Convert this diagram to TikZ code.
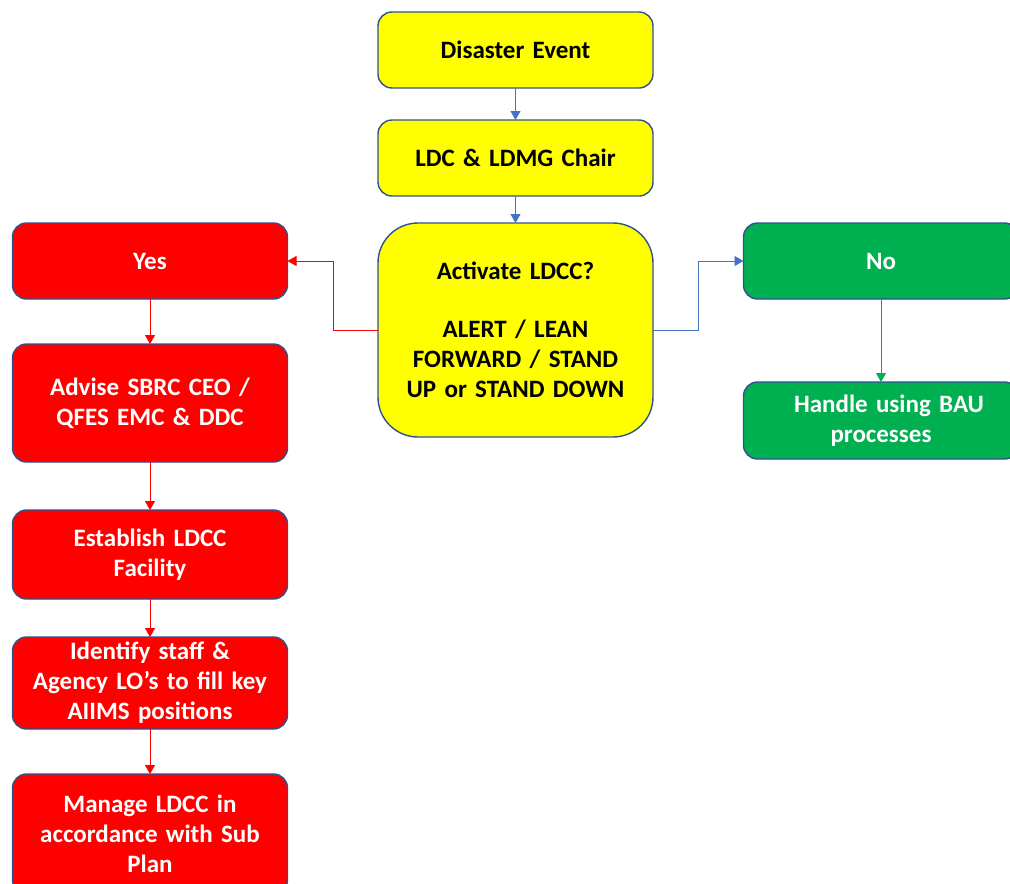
\documentclass[tikz,border=0pt]{standalone}
\usepackage{fontspec}
\setmainfont{Carlito}
\usepackage{xcolor}
\usepackage{tikz}
\usetikzlibrary{arrows.meta,positioning,calc}
\definecolor{boxline}{HTML}{2F528F}
\definecolor{stepyellow}{HTML}{FFFF00}
\definecolor{stepred}{HTML}{FF0000}
\definecolor{stepgreen}{HTML}{00B050}
\definecolor{linkblue}{HTML}{4472C4}

\begin{document}
\begin{tikzpicture}[
  x=1pt, y=1pt,
  box/.style={draw=boxline, line width=1.4pt, rounded corners=14pt, minimum width=275pt, minimum height=76pt, text width=262pt, align=center, outer sep=0pt, font=\fontsize{25}{30}\selectfont\bfseries},
  yellowbox/.style={box, fill=stepyellow, text=black},
  redbox/.style={box, fill=stepred, text=white},
  greenbox/.style={box, fill=stepgreen, text=white},
  bluearr/.style={-{Triangle[length=9pt,width=10pt]}, line width=0.8pt, linkblue},
  redarr/.style={-{Triangle[length=9pt,width=10pt]}, line width=0.8pt, stepred},
  greenarr/.style={-{Triangle[length=9pt,width=10pt]}, line width=0.8pt, stepgreen}
]
  \path[use as bounding box, clip] (0,0) rectangle (1010,-884);

  \node[yellowbox] (disaster) at (515.5,-50) {Disaster Event};
  \node[yellowbox, below=32pt of disaster] (chair) {LDC \& LDMG Chair};
  \node[yellowbox, below=27pt of chair, minimum height=214pt, rounded corners=40pt] (activate) {Activate LDCC?\\[28pt]ALERT / LEAN\\FORWARD / STAND\\UP or STAND DOWN};

  \node[redbox] (yes) at (150,-261) {Yes};
  \node[redbox, below=45pt of yes, minimum height=118pt] (advise) {Advise SBRC CEO /\\QFES EMC \& DDC};
  \node[redbox, below=48pt of advise, minimum height=89pt] (establish) {Establish LDCC\\Facility};
  \node[redbox, below=38pt of establish, minimum height=92pt] (identify) {Identify staff \&\\Agency LO’s to fill key\\AIIMS positions};
  \node[redbox, below=45pt of identify, minimum height=120pt] (manage) {Manage LDCC in\\accordance with Sub\\Plan};

  \node[greenbox] (no) at (881,-261) {No};
  \node[greenbox, below=83pt of no, minimum height=77pt] (bau) {\hspace*{16pt}Handle using BAU\\processes};

  \draw[bluearr] (disaster) -- (chair);
  \draw[bluearr] (chair) -- (activate);
  \draw[redarr] (activate.west) -- ++(-45,0) |- (yes.east);
  \draw[bluearr] (activate.east) -- ++(45,0) |- (no.west);
  \draw[redarr] (yes) -- (advise);
  \draw[redarr] (advise) -- (establish);
  \draw[redarr] (establish) -- (identify);
  \draw[redarr] (identify) -- (manage);
  \draw[greenarr] (no) -- (bau);
\end{tikzpicture}
\end{document}
